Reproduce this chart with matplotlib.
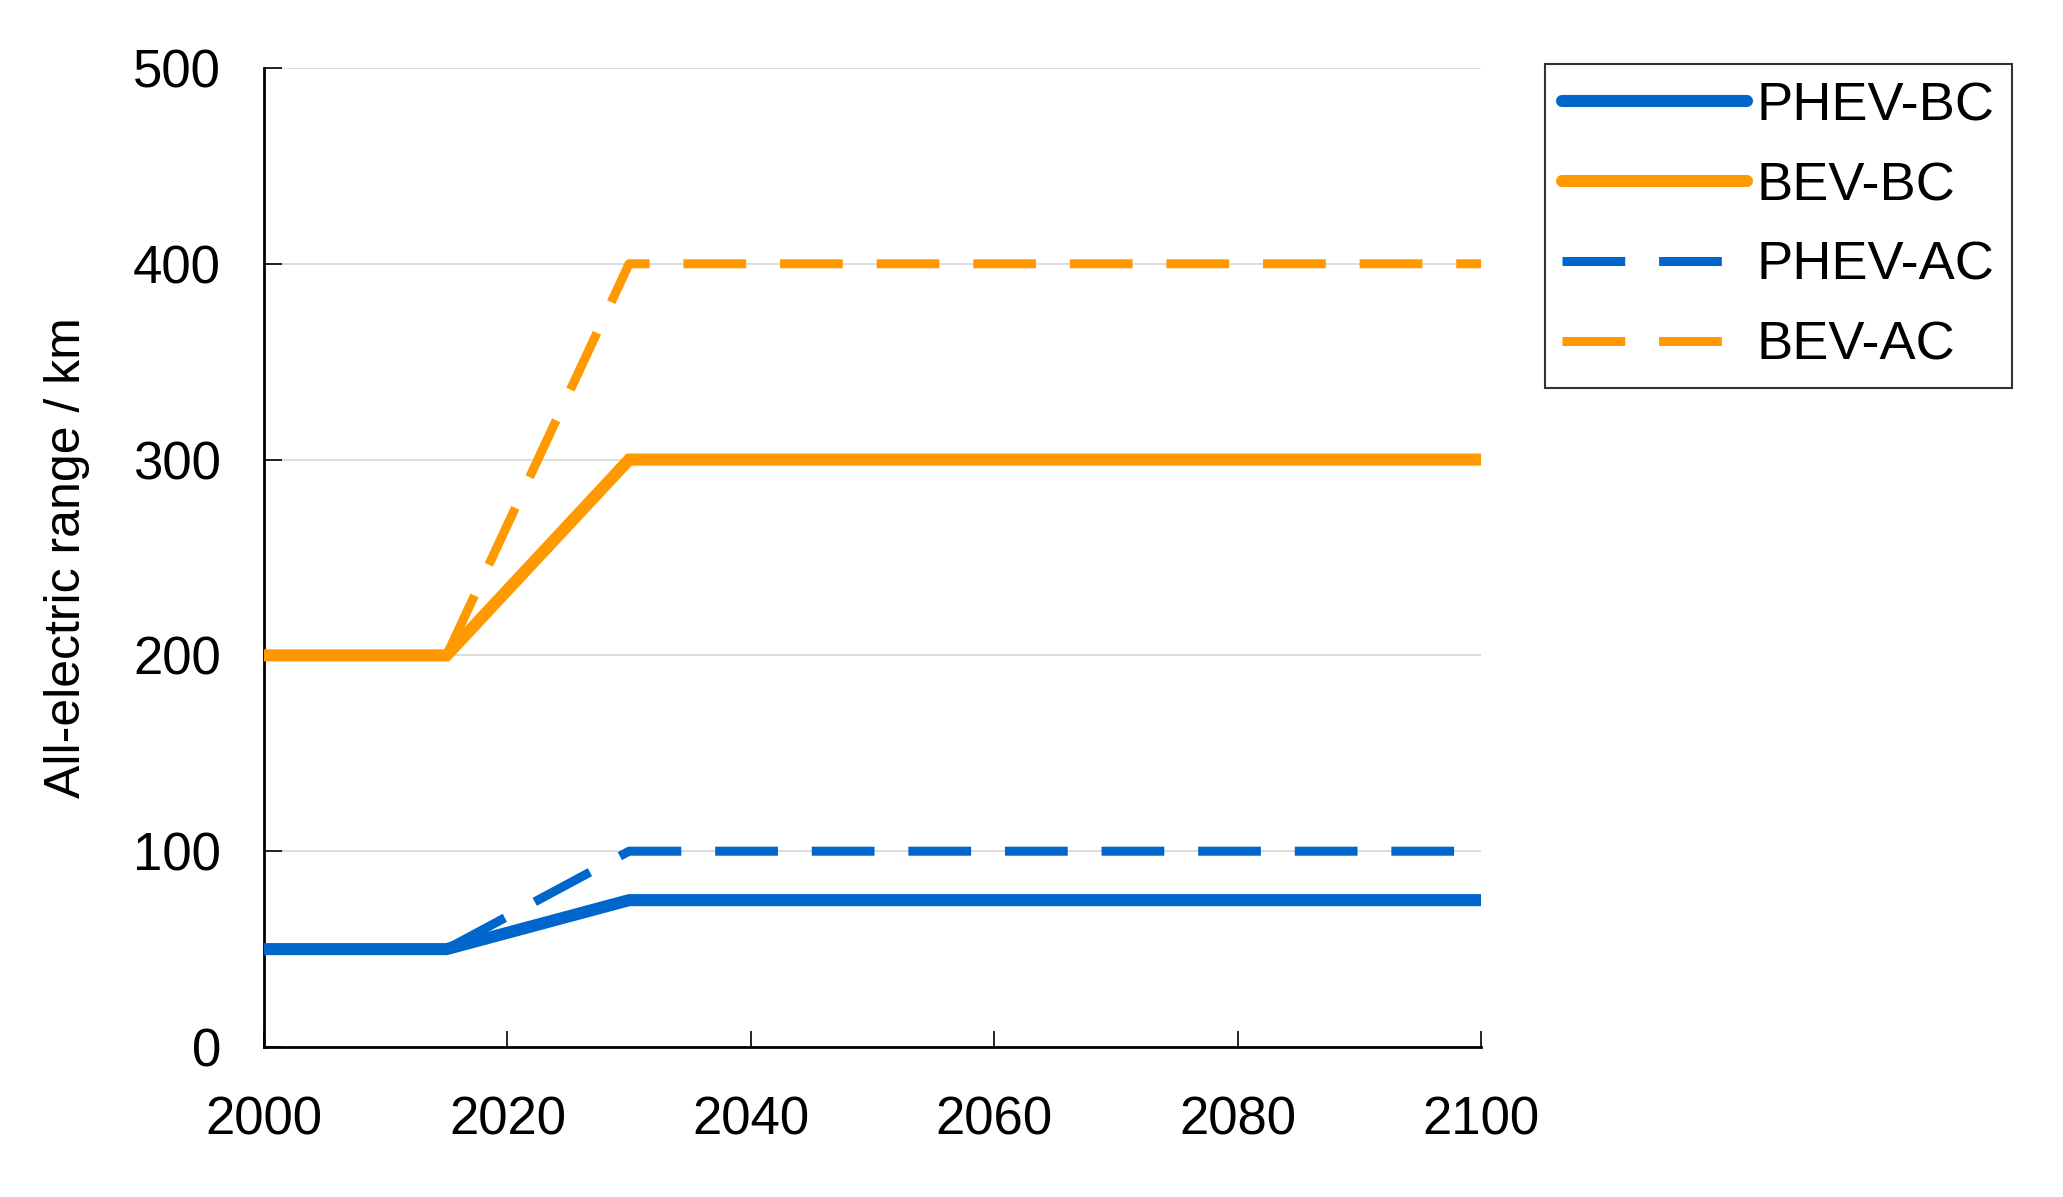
import matplotlib
matplotlib.use("Agg")
import matplotlib.pyplot as plt
from matplotlib.lines import Line2D

# --- data ------------------------------------------------------------------ #
years = [2000, 2015, 2030, 2100]
phev_bc = [50, 50, 75, 75]
bev_bc = [200, 200, 300, 300]
phev_ac = [50, 50, 100, 100]
bev_ac = [200, 200, 400, 400]
series_names = ["PHEV-BC", "BEV-BC", "PHEV-AC", "BEV-AC"]

x_ticks = [2000, 2020, 2040, 2060, 2080, 2100]
y_ticks = [0, 100, 200, 300, 400, 500]

BLUE = "#0066CC"
ORANGE = "#FF9900"

plt.rcParams["font.family"] = ["Liberation Sans", "DejaVu Sans"]

W, H = 2063, 1197
fig = plt.figure(figsize=(W / 100, H / 100), dpi=100)
ax = fig.add_axes([264 / W, 1 - 1047 / H, (1481 - 264) / W, (1047 - 68) / H])

solid_kw = dict(lw=8.7, solid_capstyle="butt", solid_joinstyle="miter", clip_on=False)
dash_kw = dict(lw=6.5, dash_capstyle="butt", linestyle=(0.8, (6.95, 3.75)), clip_on=False)

ax.plot(years, phev_ac, color=BLUE, zorder=3, **dash_kw)
ax.plot(years, bev_ac, color=ORANGE, zorder=3, **dash_kw)
ax.plot(years, phev_bc, color=BLUE, zorder=4, **solid_kw)
ax.plot(years, bev_bc, color=ORANGE, zorder=4, **solid_kw)

ax.set_xlim(2000, 2100)
ax.set_ylim(0, 500)
ax.set_xticks(x_ticks)
ax.set_yticks(y_ticks)
ax.tick_params(axis="both", direction="in", labelsize=38, colors="black", width=1.2)
ax.tick_params(axis="y", length=13, pad=31)
ax.tick_params(axis="x", length=11.5, pad=35)

ax.grid(axis="y", color="#d3d3d3", lw=1.1)
ax.set_axisbelow(True)
for s in ("top", "right"):
    ax.spines[s].set_visible(False)
for s in ("left", "bottom"):
    ax.spines[s].set_linewidth(2)
    ax.spines[s].set_color("black")

ax.set_ylabel("All-electric range / km", fontsize=36)
ax.yaxis.set_label_coords(90 / W, 1 - 557.5 / H, transform=fig.transFigure)

handles = [
    Line2D([], [], color=BLUE, lw=8.7, solid_capstyle="round"),
    Line2D([], [], color=ORANGE, lw=8.7, solid_capstyle="round"),
    Line2D([], [], color=BLUE, lw=6.5, linestyle=(0, (6.95, 3.75))),
    Line2D([], [], color=ORANGE, lw=6.5, linestyle=(0, (6.95, 3.75))),
]
leg = fig.legend(handles, series_names, loc="upper left",
                 bbox_to_anchor=(1545 / W, 1 - 64 / H), borderaxespad=0,
                 fontsize=39, frameon=True, fancybox=False, edgecolor="black",
                 handlelength=3.4, handletextpad=0.18, borderpad=0.32,
                 labelspacing=0.55)
leg.get_frame().set_linewidth(1.5)

fig.savefig("out.png", dpi=100)
